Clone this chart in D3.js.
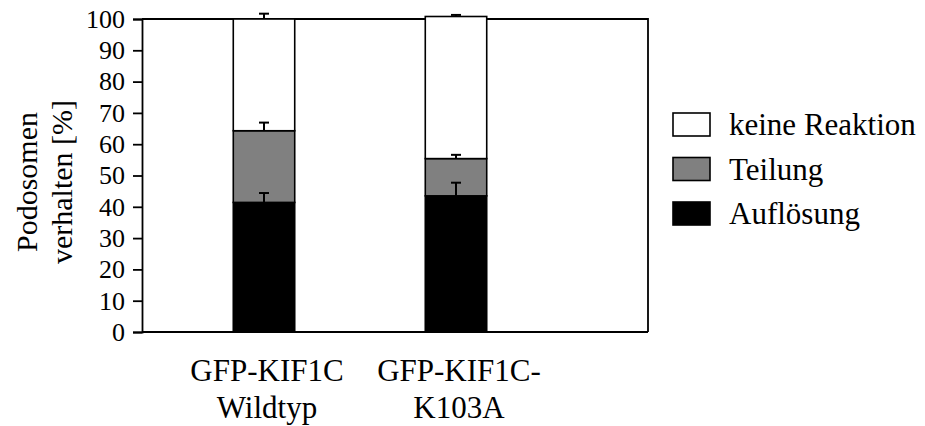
<!DOCTYPE html>
<html>
<head>
<meta charset="utf-8">
<script src="https://cdn.jsdelivr.net/npm/d3@7"></script>
</head>
<body style="margin:0">
<svg id="chart" width="925" height="426" font-family="Liberation Serif"></svg>
<script>
// groups on the x axis (each label has two lines)
var groups = ['wt', 'k103a']
var groupLabels = [['GFP-KIF1C', 'Wildtyp'], ['GFP-KIF1C-', 'K103A']]

// stacked series, bottom to top
var seriesNames = ['Auflösung', 'Teilung', 'keine Reaktion']
var seriesColors = ['#000000', '#808080', '#ffffff']
var aufloesung = [41.4, 43.5]
var teilung = [22.9, 11.9]
var keineReaktion = [35.7, 45.4]
// error bars (upwards only)
var aufloesungErr = [3.0, 4.2]
var teilungErr = [2.6, 1.2]
var keineReaktionErr = [1.7, 0.5]

var yTicks = [0, 10, 20, 30, 40, 50, 60, 70, 80, 90, 100]
var yTitle = ['Podosomen', 'verhalten [%]']

var FONT = 'Liberation Serif'

var svg = d3.select('#chart')
var margin = {top: 19, right: 277, bottom: 94, left: 142}
var width = 925 - margin.left - margin.right
var height = 426 - margin.top - margin.bottom

var values = [aufloesung, teilung, keineReaktion]
var errs = [aufloesungErr, teilungErr, keineReaktionErr]

// x & y scales
var x = d3.scaleBand().domain(groups)
  .range([26, 410]).paddingInner(0.68).paddingOuter(0.34)
var y = d3.scaleLinear().domain([0, 100]).range([height, 0])

var g = svg.append('g')
  .attr('transform', 'translate(' + margin.left + ',' + margin.top + ')')

// frame: top and right lines of the plot box
g.append('path')
  .attr('d', 'M0,0H' + width + 'V' + height)
  .attr('fill', 'none')
  .attr('stroke', '#000')
  .attr('stroke-width', 1.8)

// build stacked rows
var rows = groups.map(function (k, i) {
  var o = {key: k}
  seriesNames.forEach(function (s, j) { o[s] = values[j][i] })
  return o
})
var stack = d3.stack().keys(seriesNames)(rows)

// bars
stack.forEach(function (layer, j) {
  g.append('g').selectAll('rect')
    .data(layer)
    .enter().append('rect')
      .attr('x', function (d) { return x(d.data.key) })
      .attr('width', x.bandwidth())
      .attr('y', function (d) { return y(d[1]) })
      .attr('height', function (d) { return y(d[0]) - y(d[1]) })
      .attr('fill', seriesColors[j])
      .attr('stroke', '#000')
      .attr('stroke-width', 1.6)
})

// error bars
stack.forEach(function (layer, j) {
  var eg = g.append('g').attr('stroke', '#000').attr('stroke-width', 2)
  layer.forEach(function (d, i) {
    var cx = x(d.data.key) + x.bandwidth() / 2
    var top = y(d[1] + errs[j][i])
    eg.append('line')
      .attr('x1', cx).attr('x2', cx)
      .attr('y1', y(d[1])).attr('y2', top)
    eg.append('line')
      .attr('x1', cx - 5).attr('x2', cx + 5)
      .attr('y1', top).attr('y2', top)
  })
})

// y axis
var yAxis = g.append('g')
  .call(d3.axisLeft(y).tickValues(yTicks).tickSize(9).tickPadding(8))
  .attr('font-family', FONT)
  .attr('font-size', 26)
yAxis.selectAll('text').attr('fill', '#000').attr('font-family', FONT)
yAxis.selectAll('line').attr('stroke-width', 1.8)
yAxis.select('.domain').attr('stroke-width', 1.8)

// x axis line (no ticks)
g.append('line')
  .attr('x1', 0).attr('x2', width)
  .attr('y1', height).attr('y2', height)
  .attr('stroke', '#000')
  .attr('stroke-width', 2)

// x labels
groups.forEach(function (k, i) {
  var cx = x(k) + x.bandwidth() / 2 + 3
  groupLabels[i].forEach(function (line, li) {
    g.append('text')
      .attr('x', cx).attr('y', height + 49 + li * 37)
      .attr('text-anchor', 'middle')
      .attr('font-family', FONT)
      .attr('font-size', 31)
      .text(line)
  })
})

// y title
yTitle.forEach(function (line, li) {
  svg.append('text')
    .attr('text-anchor', 'middle')
    .attr('font-family', FONT)
    .attr('font-size', 30)
    .attr('transform', 'translate(' + (37 + li * 35) + ',182) rotate(-90)')
    .text(line)
})

// legend, top entry first
var legend = svg.append('g').attr('transform', 'translate(673,113)')
var legendOrder = d3.range(seriesNames.length).reverse()
legendOrder.forEach(function (j, r) {
  var row = legend.append('g').attr('transform', 'translate(0,' + (r * 44.5) + ')')
  row.append('rect')
    .attr('x', 0).attr('y', 0)
    .attr('width', 37).attr('height', 23)
    .attr('fill', seriesColors[j])
    .attr('stroke', '#000')
    .attr('stroke-width', 1.6)
  row.append('text')
    .attr('x', 56).attr('y', 22)
    .attr('font-family', FONT)
    .attr('font-size', 31)
    .text(seriesNames[j])
})
</script>
</body>
</html>
